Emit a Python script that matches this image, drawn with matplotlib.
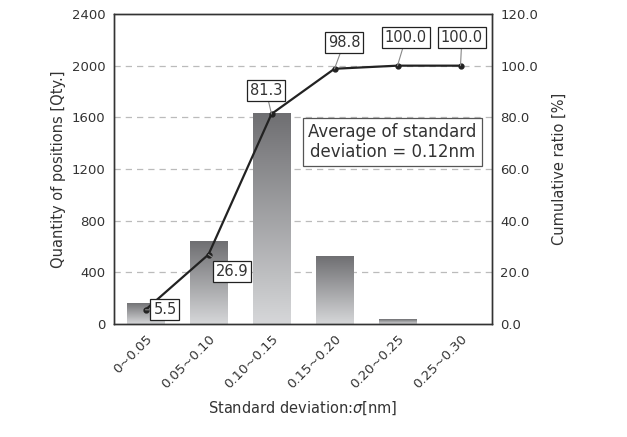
import numpy as np
import matplotlib
matplotlib.use("Agg")
import matplotlib.pyplot as plt
from matplotlib.patches import Rectangle
from matplotlib.colors import LinearSegmentedColormap

plt.rcParams['font.family'] = ['DejaVu Sans']

# data
categories = ["0~0.05", "0.05~0.10", "0.10~0.15", "0.15~0.20", "0.20~0.25", "0.25~0.30"]
quantity = [165, 642, 1632, 524, 36, 0]
cumulative = [5.5, 26.9, 81.3, 98.8, 100.0, 100.0]
label_offsets = [(14, 0), (17, -12), (-4, 17), (7, 19), (6, 20), (1, 20)]

text_col = '#333333'
bar_cmap = LinearSegmentedColormap.from_list('bar', ['#6f6f72', '#d6d7d9'])

fig = plt.figure(figsize=(6.27, 4.37), dpi=100)
ax = fig.add_axes([114/627, 1 - 324/437, 378/627, 310/437])
ax2 = ax.twinx()

x = np.arange(len(categories))

# gridlines (right axis steps)
for g in range(400, 2400, 400):
    ax.axhline(g, color='#bbbbbb', lw=0.9, ls=(0, (5, 4)), zorder=0)

# bars with vertical gradient
grad = np.linspace(0, 1, 256).reshape(-1, 1)
bar_w = 0.59
for xi, q in zip(x, quantity):
    if q <= 0:
        continue
    rect = Rectangle((xi - bar_w/2, 0), bar_w, q, facecolor='none', edgecolor='none')
    ax.add_patch(rect)
    im = ax.imshow(grad, cmap=bar_cmap, vmin=0, vmax=1, aspect='auto',
                   extent=(xi - bar_w/2, xi + bar_w/2, 0, q), origin='upper', zorder=1)
    im.set_clip_path(rect)

ax.set_xlim(-0.5, len(categories) - 0.5)
ax.set_ylim(0, 2400)
ax2.set_ylim(0, 120)

# cumulative line
ax2.plot(x, cumulative, color='#222222', lw=1.6, marker='o', ms=3.5, zorder=3)
for xi, c, off in zip(x, cumulative, label_offsets):
    ax2.annotate(f"{c:.1f}", (xi, c), xytext=off, textcoords='offset points',
                 ha='center', va='center', fontsize=10.5, color=text_col,
                 bbox=dict(boxstyle='square,pad=0.2', fc='white', ec='#222222', lw=0.9),
                 arrowprops=dict(arrowstyle='-', color='#888888', lw=0.8, shrinkA=0, shrinkB=0),
                 zorder=4)

ax.text(0.737, 0.587, "Average of standard\ndeviation = 0.12nm", transform=ax.transAxes,
        ha='center', va='center', fontsize=12, color=text_col, linespacing=1.1,
        bbox=dict(boxstyle='square,pad=0.3', fc='white', ec='#555555', lw=0.9), zorder=5)

ax.set_yticks(range(0, 2401, 400))
ax2.set_yticks(range(0, 121, 20))
ax2.set_yticklabels([f"{v:.1f}" for v in range(0, 121, 20)])
ax.set_xticks(x)
ax.set_xticklabels(categories, rotation=45, ha='right', rotation_mode='anchor')
ax.tick_params(axis='both', length=0, labelsize=9.5, labelcolor=text_col, pad=6)
ax2.tick_params(axis='y', length=0, labelsize=9.5, labelcolor=text_col, pad=6)

ax.set_ylabel("Quantity of positions [Qty.]", fontsize=10.5, color=text_col)
ax2.set_ylabel("Cumulative ratio [%]", fontsize=10.5, color=text_col, labelpad=10)
ax.set_xlabel(r"Standard deviation:$\sigma$[nm]", fontsize=10.5, color=text_col, labelpad=6)

for a in (ax, ax2):
    for s in a.spines.values():
        s.set_color('#333333')
        s.set_linewidth(1.0)

fig.savefig("out.png", dpi=100)
